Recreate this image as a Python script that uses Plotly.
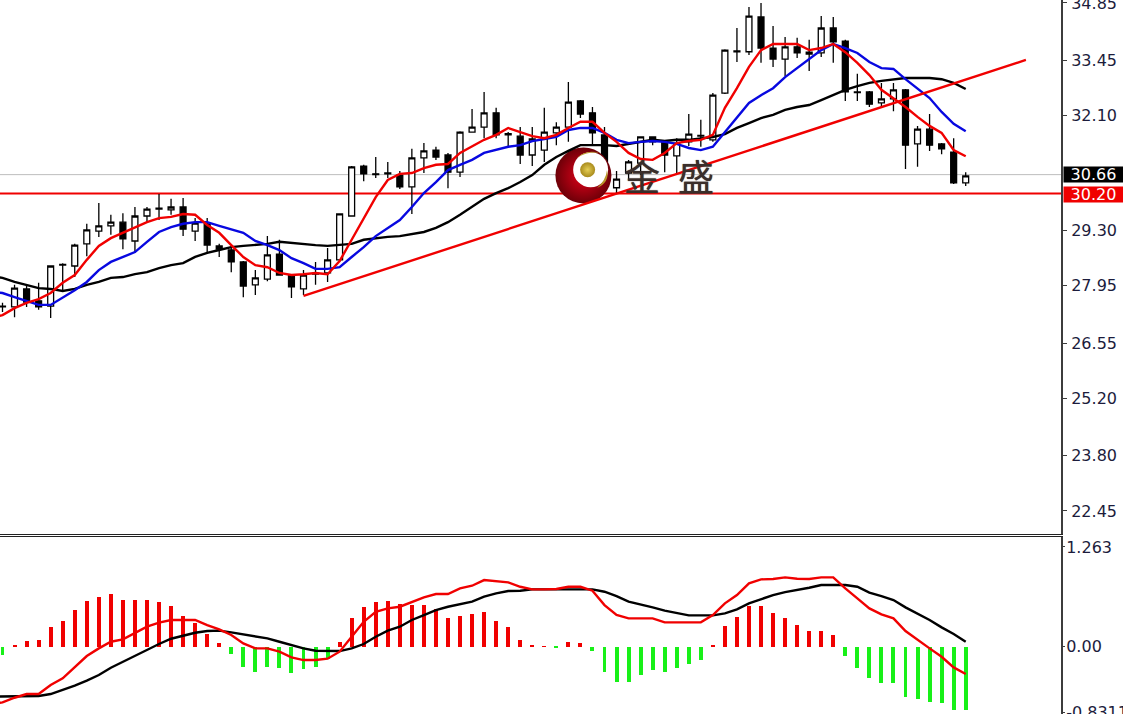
import plotly.graph_objects as go

bar_index = list(range(81))
line_index = [-1] + bar_index

opens = [27.45,27.43,27.87,27.58,27.45,28.45,28.43,28.97,29.28,29.41,29.50,29.04,29.65,29.82,29.80,29.87,29.28,29.46,28.92,28.82,
28.53,27.97,28.11,28.72,28.21,27.87,28.23,28.26,28.58,29.65,30.87,30.68,30.70,30.65,30.36,31.07,31.26,31.14,30.72,31.70,
31.82,32.17,31.66,31.60,31.14,31.26,31.68,31.82,32.46,32.17,31.63,30.34,30.70,30.94,31.58,31.46,31.12,31.46,31.60,31.51,
32.65,33.66,33.66,34.51,33.75,33.48,33.78,33.60,33.63,34.24,33.92,32.68,32.68,32.41,32.51,32.73,31.41,31.77,31.41,31.21,30.46]
highs = [27.53,27.97,27.94,28.02,28.45,28.50,28.97,29.46,29.97,29.68,29.72,29.87,29.87,30.19,30.07,30.09,29.60,29.60,28.97,28.87,
28.55,28.33,29.16,29.07,28.23,28.33,28.53,28.87,29.72,30.87,30.90,31.09,30.97,30.75,31.29,31.43,31.34,31.19,31.72,32.26,
32.68,32.29,31.70,31.82,31.82,32.29,31.94,32.92,32.48,32.31,31.82,30.75,31.02,31.60,31.60,31.46,31.55,32.14,32.00,32.65,
33.72,34.24,34.75,34.85,34.29,34.02,34.00,33.95,34.53,34.51,33.95,33.12,32.70,32.90,32.90,32.75,31.85,32.14,31.43,31.55,30.72]
lows = [27.31,27.18,27.43,27.36,27.16,27.84,28.16,28.67,29.14,29.19,28.84,28.75,29.50,29.55,29.68,29.16,29.04,28.75,28.65,28.28,
27.67,27.72,28.06,28.19,27.65,27.72,27.97,28.04,28.53,29.63,30.50,30.58,30.58,30.31,29.70,30.70,31.02,30.33,30.60,31.68,
31.55,31.55,31.36,30.92,30.87,30.97,31.38,31.46,32.04,31.38,30.46,30.21,30.53,30.65,31.38,30.72,30.70,31.36,31.34,31.46,
32.63,33.41,33.58,33.39,33.29,33.07,33.51,33.19,33.53,33.39,32.46,32.46,32.31,32.31,32.21,30.80,30.85,31.24,31.16,30.43,30.38]
closes = [27.43,27.89,27.55,27.43,28.43,28.47,28.94,29.31,29.41,29.50,29.09,29.65,29.82,29.84,29.87,29.33,29.48,28.94,28.84,28.53,
27.94,28.14,28.70,28.21,27.92,28.21,28.25,28.58,29.70,30.85,30.68,30.66,30.68,30.36,31.07,31.24,31.09,30.72,31.70,31.82,
32.17,31.63,31.63,31.14,31.53,31.70,31.82,32.43,32.14,31.68,30.58,30.55,30.97,31.58,31.46,31.14,31.43,31.65,31.62,32.60,
33.70,33.68,34.53,33.75,33.48,33.78,33.63,33.65,34.24,33.90,32.68,32.66,32.38,32.51,32.73,31.38,31.77,31.38,31.29,30.46,30.63]

ma_red = [27.15,27.23,27.40,27.53,27.62,27.77,28.02,28.21,28.58,28.92,29.11,29.24,29.38,29.50,29.60,29.63,29.70,29.68,29.43,29.24,28.94,
28.65,28.45,28.40,28.26,28.21,28.23,28.26,28.23,28.55,29.07,29.60,30.11,30.53,30.68,30.70,30.82,30.90,30.92,31.19,31.34,
31.51,31.63,31.80,31.70,31.60,31.55,31.63,31.80,31.95,31.95,31.68,31.46,31.19,31.04,31.02,31.19,31.43,31.48,31.51,31.63,
32.29,32.77,33.29,33.70,33.85,33.85,33.85,33.70,33.75,33.85,33.65,33.39,33.09,32.73,32.53,32.31,32.07,31.85,31.68,31.26,31.11]
ma_blue = [27.80,27.77,27.67,27.58,27.48,27.48,27.65,27.84,28.04,28.33,28.53,28.65,28.77,29.02,29.26,29.38,29.46,29.50,29.50,29.41,29.33,
29.24,29.04,28.94,28.82,28.62,28.50,28.36,28.36,28.40,28.65,28.89,29.16,29.36,29.55,29.87,30.21,30.48,30.77,30.90,31.02,
31.19,31.26,31.34,31.38,31.48,31.53,31.58,31.75,31.80,31.80,31.68,31.51,31.43,31.46,31.48,31.46,31.41,31.31,31.26,31.34,
31.70,32.07,32.41,32.60,32.77,33.04,33.26,33.46,33.70,33.85,33.75,33.63,33.41,33.26,33.24,32.99,32.77,32.53,32.19,31.90,31.72]
ma_black = [28.18,28.14,28.04,27.97,27.89,27.87,27.82,27.87,27.97,28.04,28.14,28.16,28.23,28.28,28.38,28.45,28.50,28.65,28.75,28.82,28.89,
28.92,28.94,28.97,29.02,28.99,28.97,28.94,28.92,28.94,28.97,29.07,29.11,29.14,29.16,29.21,29.26,29.36,29.50,29.68,29.87,
30.07,30.21,30.33,30.48,30.65,30.90,31.09,31.24,31.38,31.38,31.38,31.36,31.41,31.46,31.51,31.48,31.51,31.51,31.55,31.58,
31.65,31.80,31.92,32.04,32.12,32.24,32.31,32.36,32.48,32.60,32.73,32.82,32.90,32.95,32.99,33.02,33.02,33.02,32.99,32.90,32.75]

macd_hist = [-0.105,0.010,0.076,0.084,0.245,0.329,0.464,0.578,0.633,0.667,0.591,0.591,0.591,0.561,0.519,0.388,0.304,0.160,0.042,-0.097,
-0.253,-0.316,-0.253,-0.274,-0.329,-0.283,-0.253,-0.160,0.055,0.359,0.506,0.561,0.578,0.536,0.523,0.523,0.473,0.359,0.392,0.409,
0.435,0.329,0.245,0.084,0.017,0.008,-0.010,0.059,0.042,-0.050,-0.316,-0.443,-0.443,-0.359,-0.295,-0.316,-0.274,-0.219,-0.169,0.017,
0.266,0.380,0.519,0.519,0.422,0.359,0.274,0.203,0.203,0.148,-0.114,-0.274,-0.401,-0.456,-0.456,-0.633,-0.662,-0.705,-0.717,-0.802,-0.802]
macd_red = [-0.73,-0.705,-0.646,-0.599,-0.599,-0.485,-0.401,-0.253,-0.118,-0.021,0.063,0.093,0.169,0.253,0.304,0.338,0.338,0.338,0.274,0.219,0.148,
0.042,-0.021,-0.021,-0.063,-0.135,-0.169,-0.169,-0.152,-0.063,0.127,0.316,0.443,0.485,0.506,0.570,0.624,0.667,0.667,0.738,0.772,
0.844,0.831,0.814,0.759,0.726,0.726,0.730,0.759,0.759,0.709,0.527,0.401,0.359,0.359,0.359,0.308,0.308,0.308,0.308,0.401,
0.549,0.654,0.802,0.852,0.857,0.878,0.861,0.857,0.878,0.878,0.738,0.612,0.485,0.409,0.359,0.198,0.084,-0.021,-0.127,-0.262,-0.346]
macd_black = [-0.633,-0.633,-0.633,-0.624,-0.624,-0.599,-0.549,-0.494,-0.430,-0.359,-0.266,-0.190,-0.118,-0.042,0.034,0.101,0.143,0.177,0.198,0.203,0.181,
0.156,0.127,0.105,0.063,0.021,-0.021,-0.051,-0.055,-0.055,-0.021,0.034,0.127,0.203,0.253,0.338,0.401,0.464,0.506,0.540,0.570,
0.633,0.675,0.705,0.709,0.726,0.726,0.726,0.726,0.726,0.726,0.696,0.641,0.570,0.536,0.498,0.456,0.430,0.397,0.397,0.397,
0.422,0.473,0.549,0.599,0.654,0.692,0.717,0.747,0.781,0.785,0.781,0.759,0.684,0.641,0.591,0.498,0.422,0.338,0.245,0.160,0.063]

trend_x = [25, 85]
trend_y = [27.70, 33.46]
last_price = 30.66
support_price = 30.20

price_ticks = [34.85, 33.45, 32.10, 29.30, 27.95, 26.55, 25.20, 23.80, 22.45]
price_labels = ["34.85", "33.45", "32.10", "29.30", "27.95", "26.55", "25.20", "23.80", "22.45"]
macd_ticks = [1.263, 0.0, -0.831]
macd_labels = ["1.263", "0.00", "-0.8311"]

for series in (opens, highs, lows, closes, macd_hist):
    assert len(series) == 81, len(series)
for series in (ma_red, ma_blue, ma_black, macd_red, macd_black):
    assert len(series) == 82, len(series)

W, H = 1123, 714
PX = lambda x: x / W
PY = lambda y: 1 - y / H
FONT = "DejaVu Sans"
LINE = "#3c3c3c"
LW = 2.4
WM = "#3a2e2a"

fig = go.Figure()

# logo: sphere, white hollow, gold ball (lowest layer)
fig.add_trace(go.Scatter(x=[48.25], y=[30.64], mode="markers", hoverinfo="skip", showlegend=False,
    marker=dict(size=56, color="#6d0008", gradient=dict(type="radial", color="#e4001a"), line=dict(width=0))))
fig.add_trace(go.Scatter(x=[48.85], y=[30.78], mode="markers", hoverinfo="skip", showlegend=False,
    marker=dict(size=35, color="white", line=dict(width=0))))
fig.add_trace(go.Scatter(x=[48.6], y=[30.78], mode="markers", hoverinfo="skip", showlegend=False,
    marker=dict(size=15, color="#a88a1c", gradient=dict(type="radial", color="#e6cf55"), line=dict(width=0))))

fig.add_trace(go.Candlestick(x=bar_index, open=opens, high=highs, low=lows, close=closes,
    whiskerwidth=0, showlegend=False, hoverinfo="skip",
    increasing=dict(line=dict(color="black", width=1.3), fillcolor="white"),
    decreasing=dict(line=dict(color="black", width=1.3), fillcolor="black")))

fig.add_trace(go.Scatter(x=line_index, y=ma_black, mode="lines", line=dict(color="black", width=LW), showlegend=False))
fig.add_trace(go.Scatter(x=line_index, y=ma_blue, mode="lines", line=dict(color="#0808e0", width=LW), showlegend=False))
fig.add_trace(go.Scatter(x=line_index, y=ma_red, mode="lines", line=dict(color="#f00000", width=LW), showlegend=False))
fig.add_trace(go.Scatter(x=trend_x, y=trend_y, mode="lines", line=dict(color="#f00000", width=LW), showlegend=False))

fig.add_trace(go.Bar(x=bar_index, y=macd_hist, width=0.33, xaxis="x2", yaxis="y2", showlegend=False,
    marker=dict(color=["#f00000" if v >= 0 else "#18f018" for v in macd_hist], line=dict(width=0))))
fig.add_trace(go.Scatter(x=line_index, y=macd_black, mode="lines", xaxis="x2", yaxis="y2",
    line=dict(color="black", width=LW), showlegend=False))
fig.add_trace(go.Scatter(x=line_index, y=macd_red, mode="lines", xaxis="x2", yaxis="y2",
    line=dict(color="#f00000", width=LW), showlegend=False))

x_range = [-2.5 / 12.04, (1061 - 2.5) / 12.04]
axis_x = dict(range=x_range, domain=[0, PX(1061)], showgrid=False, zeroline=False, showticklabels=False,
              ticks="", showline=True, linecolor="#222", linewidth=1, fixedrange=True, automargin=False)

fig.update_layout(
    width=W, height=H, autosize=False, margin=dict(l=0, r=0, t=0, b=0, autoexpand=False),
    paper_bgcolor="white", plot_bgcolor="white", showlegend=False, bargap=0,
    xaxis=dict(axis_x, anchor="y", rangeslider=dict(visible=False)),
    xaxis2=dict(axis_x, anchor="y2", side="top"),
    yaxis=dict(domain=[PY(534), 1], range=[21.888, 34.923], side="right", anchor="x", automargin=False,
               tickvals=price_ticks, ticktext=price_labels, showgrid=False, zeroline=False,
               ticks="outside", ticklen=4, tickwidth=1, tickcolor=LINE, ticklabelstandoff=1,
               ticklabeloverflow="allow", showline=True, linecolor=LINE, linewidth=2,
               tickfont=dict(family=FONT, size=16, color="#1c1c3c")),
    yaxis2=dict(domain=[0, PY(537)], range=[-0.852, 1.389], side="right", anchor="x2", automargin=False,
                tickvals=macd_ticks, ticktext=macd_labels, showgrid=False, zeroline=False,
                ticks="outside", ticklen=2, tickwidth=1, tickcolor=LINE, ticklabelstandoff=-2,
                ticklabeloverflow="allow", showline=True, linecolor=LINE, linewidth=2,
                tickfont=dict(family=FONT, size=16, color="#1c1c3c")),
    shapes=[
        dict(type="line", xref="paper", x0=0, x1=PX(1061), yref="y", y0=last_price, y1=last_price,
             line=dict(color="#bdbdbd", width=1), layer="below"),
        dict(type="line", xref="paper", x0=0, x1=PX(1061), yref="y", y0=support_price, y1=support_price,
             line=dict(color="#f00000", width=2), layer="below"),
        dict(type="path", xref="paper", yref="paper", fillcolor="#b8982c", line=dict(width=0), layer="above",
             path=f"M {PX(577)} {PY(158)} Q {PX(586)} {PY(149)} {PX(600)} {PY(153)} Q {PX(588)} {PY(151)} {PX(577)} {PY(158)} Z"),
        dict(type="path", xref="paper", yref="paper", fillcolor="#b8982c", line=dict(width=0), layer="above",
             path=f"M {PX(597)} {PY(188)} Q {PX(606)} {PY(180)} {PX(607)} {PY(170)} Q {PX(610)} {PY(182)} {PX(597)} {PY(188)} Z"),
    ],
    annotations=[
        dict(text="30.66", xref="paper", x=PX(1063), xanchor="left", yref="y", y=last_price, yanchor="middle",
             showarrow=False, bgcolor="black", width=59, height=15, borderpad=0,
             font=dict(family=FONT, size=16, color="white")),
        dict(text="30.20", xref="paper", x=PX(1063), xanchor="left", yref="paper", y=PY(194.5), yanchor="middle",
             showarrow=False, bgcolor="#f00000", width=59, height=15, borderpad=0,
             font=dict(family=FONT, size=16, color="white")),
        dict(text="金", xref="paper", x=PX(642), xanchor="center", yref="paper", y=PY(175), yanchor="middle",
             showarrow=False, font=dict(family="Noto Sans CJK SC", size=36, color=WM, shadow=f"0 0 1px {WM}")),
        dict(text="盛", xref="paper", x=PX(696), xanchor="center", yref="paper", y=PY(175), yanchor="middle",
             showarrow=False, font=dict(family="Noto Sans CJK SC", size=36, color=WM, shadow=f"0 0 1px {WM}")),
    ],
)

fig.write_html("out.html", config=dict(displayModeBar=False),
               post_script="document.body.style.margin='0';document.body.style.overflow='hidden';")
